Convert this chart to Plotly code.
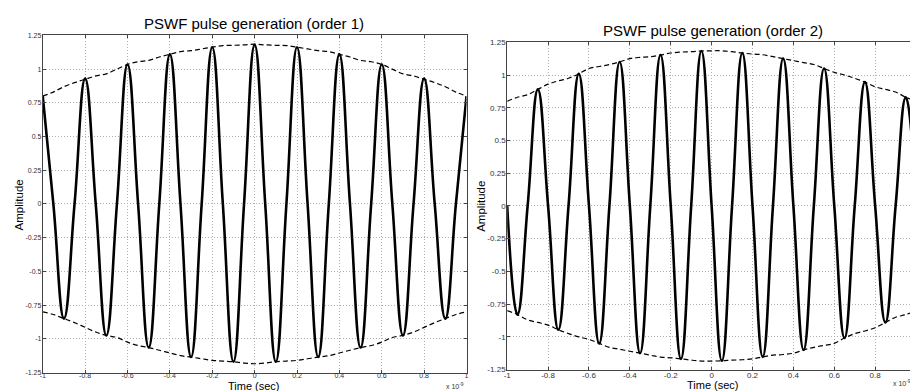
import plotly.graph_objects as go

# ---- data (time in units of 1e-9 s) ----
t_grid = [-1.0, -0.95, -0.9, -0.85, -0.8, -0.75, -0.7, -0.65, -0.6, -0.55, -0.5,
          -0.45, -0.4, -0.35, -0.3, -0.25, -0.2, -0.15, -0.1, -0.05, 0.0,
          0.05, 0.1, 0.15, 0.2, 0.25, 0.3, 0.35, 0.4, 0.45, 0.5,
          0.55, 0.6, 0.65, 0.7, 0.75, 0.8, 0.85, 0.9, 0.95, 1.0]

# order 1 pulse: extrema and zero crossings
pulse1 = [0.80, 0, -0.85, 0, 0.93, 0, -0.975, 0, 1.035, 0, -1.065,
          0, 1.11, 0, -1.135, 0, 1.163, 0, -1.17, 0, 1.18,
          0, -1.17, 0, 1.163, 0, -1.135, 0, 1.11, 0, -1.065,
          0, 1.035, 0, -0.975, 0, 0.93, 0, -0.85, 0, 0.80]
env1_upper = [0.80, 0.83, 0.87, 0.90, 0.925, 0.95, 0.965, 1.00, 1.035, 1.055, 1.065,
              1.09, 1.11, 1.13, 1.137, 1.15, 1.163, 1.175, 1.177, 1.18, 1.185,
              1.18, 1.177, 1.175, 1.163, 1.15, 1.137, 1.13, 1.11, 1.09, 1.065,
              1.055, 1.035, 1.00, 0.965, 0.95, 0.925, 0.90, 0.87, 0.83, 0.80]
env1_lower = [-0.80, -0.82, -0.85, -0.88, -0.915, -0.95, -0.975, -0.99, -1.025, -1.05, -1.065,
              -1.085, -1.105, -1.125, -1.136, -1.148, -1.16, -1.165, -1.17, -1.18, -1.185,
              -1.18, -1.17, -1.165, -1.16, -1.148, -1.136, -1.125, -1.105, -1.085, -1.065,
              -1.05, -1.025, -0.99, -0.975, -0.95, -0.915, -0.88, -0.85, -0.82, -0.80]

# order 2 pulse
pulse2 = [0, -0.83, 0, 0.89, 0, -0.946, 0, 1.009, 0, -1.05, 0,
          1.10, 0, -1.125, 0, 1.153, 0, -1.168, 0, 1.183, 0,
          -1.183, 0, 1.168, 0, -1.153, 0, 1.125, 0, -1.10, 0,
          1.05, 0, -1.009, 0, 0.946, 0, -0.89, 0, 0.83, 0]
env2_upper = [0.80, 0.83, 0.85, 0.89, 0.93, 0.955, 0.975, 1.009, 1.05, 1.065, 1.08,
              1.10, 1.125, 1.135, 1.14, 1.153, 1.168, 1.175, 1.178, 1.183, 1.185,
              1.185, 1.178, 1.168, 1.16, 1.155, 1.14, 1.125, 1.11, 1.095, 1.08,
              1.05, 1.02, 1.0, 0.975, 0.946, 0.91, 0.89, 0.87, 0.83, 0.80]
env2_lower = [-0.80, -0.83, -0.87, -0.89, -0.91, -0.946, -0.975, -1.0, -1.02, -1.05, -1.08,
              -1.095, -1.11, -1.125, -1.14, -1.155, -1.16, -1.168, -1.178, -1.185, -1.185,
              -1.183, -1.178, -1.175, -1.168, -1.153, -1.14, -1.135, -1.125, -1.10, -1.08,
              -1.065, -1.05, -1.009, -0.975, -0.955, -0.93, -0.89, -0.85, -0.83, -0.80]

x_tickvals = [-1, -0.8, -0.6, -0.4, -0.2, 0, 0.2, 0.4, 0.6, 0.8, 1]
x_ticktext = ["-1", "-0.8", "-0.6", "-0.4", "-0.2", "0", "0.2", "0.4", "0.6", "0.8", "1"]
y_tickvals = [-1.25, -1, -0.75, -0.5, -0.25, 0, 0.25, 0.5, 0.75, 1, 1.25]
y_ticktext = ["-1.25", "-1", "-0.75", "-0.5", "-0.25", "0", "0.25", "0.5", "0.75", "1", "1.25"]

titles = ["PSWF pulse generation (order 1)", "PSWF pulse generation (order 2)"]
x_label = "Time (sec)"
y_label = "Amplitude"
exp_label = "x 10<sup>-9</sup>"

W, H = 918, 391
FONT = "Liberation Sans, Arial, sans-serif"

fig = go.Figure()

panels = [(pulse1, env1_upper, env1_lower, "x", "y"),
          (pulse2, env2_upper, env2_lower, "x2", "y2")]
for pulse, up, lo, xa, ya in panels:
    fig.add_trace(go.Scatter(x=t_grid, y=pulse, mode="lines", xaxis=xa, yaxis=ya,
                             line=dict(color="black", width=2.6, shape="spline", smoothing=1.3),
                             showlegend=False, hoverinfo="skip"))
    for env in (up, lo):
        fig.add_trace(go.Scatter(x=t_grid, y=env, mode="lines", xaxis=xa, yaxis=ya,
                                 line=dict(color="black", width=1.2, dash="5px,3px",
                                           shape="spline", smoothing=1.0),
                                 showlegend=False, hoverinfo="skip"))

def px(x):
    return x / W

def py(y):
    return 1 - y / H

# panel geometry in pixels: (left, right, top, bottom)
geo = [(31, 458, 24, 369), (499, 911, 31, 366)]
tick_sizes = [7, 8]
x_standoff = [-4, -2]

axis_common = dict(showline=True, linecolor="#444", linewidth=1, mirror="ticks",
                   ticks="inside", ticklen=3, tickcolor="#444",
                   showgrid=True, gridcolor="#b0b0b0", griddash="1px,2px", gridwidth=1,
                   zeroline=False)

for i, (l, r, t, b) in enumerate(geo):
    sfx = "" if i == 0 else str(i + 1)
    fig.layout["xaxis" + sfx] = dict(
        domain=[px(l), px(r)], range=[-1, 1], anchor="y" + sfx,
        tickvals=x_tickvals, ticktext=x_ticktext, ticklabelstandoff=x_standoff[i],
        tickfont=dict(family=FONT, size=tick_sizes[i], color="#333"), **axis_common)
    fig.layout["yaxis" + sfx] = dict(
        domain=[py(b), py(t)], range=[-1.25, 1.25], anchor="x" + sfx,
        tickvals=y_tickvals, ticktext=y_ticktext, ticklabelstandoff=-1,
        tickfont=dict(family=FONT, size=tick_sizes[i], color="#333"), **axis_common)

annotations = []
title_pos = [(244, 12), (706, 19)]
xlab_pos = [(244, 383), (706, 382)]
ylab_pos = [(8, 197), (473, 199)]
exp_pos = [(457, 383), (908, 380)]
for i in range(2):
    annotations.append(dict(text=titles[i], x=px(title_pos[i][0]), y=py(title_pos[i][1]),
                            xref="paper", yref="paper", showarrow=False,
                            xanchor="center", yanchor="middle",
                            font=dict(family=FONT, size=15, color="black")))
    annotations.append(dict(text=x_label, x=px(xlab_pos[i][0]), y=py(xlab_pos[i][1]),
                            xref="paper", yref="paper", showarrow=False,
                            xanchor="center", yanchor="middle",
                            font=dict(family=FONT, size=11, color="black")))
    annotations.append(dict(text=y_label, x=px(ylab_pos[i][0]), y=py(ylab_pos[i][1]),
                            xref="paper", yref="paper", showarrow=False, textangle=-90,
                            xanchor="center", yanchor="middle",
                            font=dict(family=FONT, size=11.5, color="black")))
    annotations.append(dict(text=exp_label, x=px(exp_pos[i][0]), y=py(exp_pos[i][1]),
                            xref="paper", yref="paper", showarrow=False,
                            xanchor="right", yanchor="middle",
                            font=dict(family=FONT, size=7, color="#333")))

fig.update_layout(width=W, height=H, margin=dict(l=0, r=0, t=0, b=0),
                  paper_bgcolor="white", plot_bgcolor="white",
                  annotations=annotations, showlegend=False)

fig.write_html("out.html")
